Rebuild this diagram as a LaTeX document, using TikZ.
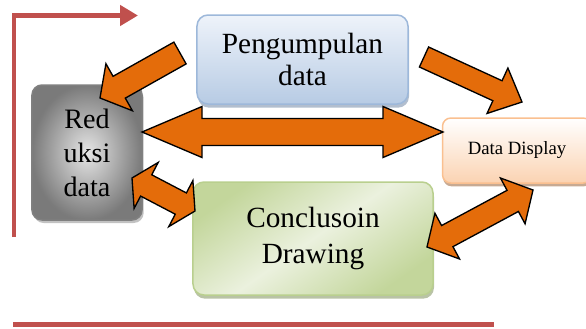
\documentclass[tikz,border=0pt]{standalone}
\usepackage{fontspec}
\setmainfont{Liberation Serif}
\usetikzlibrary{calc,arrows.meta,shadows}
\definecolor{frame}{HTML}{C0504D}
\definecolor{arrowfill}{HTML}{E46C0A}
\definecolor{bluetop}{HTML}{EEF3FA}
\definecolor{bluebot}{HTML}{B7CBE4}
\definecolor{blueline}{HTML}{9DB8DA}
\definecolor{peachbot}{HTML}{FBD3B2}
\definecolor{peachline}{HTML}{FAC090}
\definecolor{greendark}{HTML}{C3D69B}
\definecolor{greenlight}{HTML}{EBF1DE}
\definecolor{greenline}{HTML}{B9CF8E}
\tikzset{
  box/.style={rounded corners=0.33cm, line width=0.045cm, align=center, inner sep=0pt},
  blockarrow/.style={fill=arrowfill, draw=black, line width=0.04cm, line join=miter},
  frameline/.style={draw=frame, line width=0.14cm}
}
\newcommand{\onearrow}[5]{%
  \coordinate (hb) at ($(#2)!#5!(#1)$);
  \draw[blockarrow] ($(#1)!#3!90:(#2)$) -- ($(hb)!#3!90:(#2)$) -- ($(hb)!#4!90:(#2)$)
    -- (#2) -- ($(hb)!#4!-90:(#2)$) -- ($(hb)!#3!-90:(#2)$) -- ($(#1)!#3!-90:(#2)$) -- cycle;}
\newcommand{\twoarrow}[5]{%
  \coordinate (ha) at ($(#1)!#5!(#2)$);
  \coordinate (hb) at ($(#2)!#5!(#1)$);
  \draw[blockarrow] (#1) -- ($(ha)!#4!90:(#2)$) -- ($(ha)!#3!90:(#2)$) -- ($(hb)!#3!90:(#2)$)
    -- ($(hb)!#4!90:(#2)$) -- (#2) -- ($(hb)!#4!-90:(#2)$) -- ($(hb)!#3!-90:(#2)$)
    -- ($(ha)!#3!-90:(#2)$) -- ($(ha)!#4!-90:(#2)$) -- cycle;}
\begin{document}
\begin{tikzpicture}[x=0.03cm,y=-0.03cm]
  \useasboundingbox (0,0) rectangle (586,328);
  \coordinate (fb) at (14,237);
  \coordinate (fc) at (14,15.5);
  \coordinate (ft) at (138,15.5);
  \coordinate (bl) at (13,324.5);
  \coordinate (br) at (494,324.5);
  \draw[frameline, -{Triangle[length=0.54cm, width=0.6cm]}] (fb) -- (fc) -- (ft);
  \draw[frameline] (bl) -- (br);
  \node[box, draw=blueline, top color=bluetop, bottom color=bluebot,
    drop shadow={shadow xshift=0.03cm, shadow yshift=-0.11cm, fill=blueline!80!black, opacity=0.6},
    minimum width=6.33cm, minimum height=2.67cm, font=\fontsize{25}{27.5}\selectfont]
    (peng) at (302.5,59.5) {Pengumpulan\\data};
  \node[box, rounded corners=0.3cm, draw=black!50, inner color=black!10, outer color=black!52,
    drop shadow={shadow xshift=0.05cm, shadow yshift=-0.09cm, fill=black!40, opacity=0.6},
    minimum width=3.3cm, minimum height=4.05cm, font=\fontsize{24}{29}\selectfont]
    (red) at (87,152.5) {Red\\uksi\\data};
  \node[box, rounded corners=0.25cm, draw=peachline, top color=white, bottom color=peachbot,
    drop shadow={shadow xshift=0.02cm, shadow yshift=-0.1cm, fill=peachline!70!black, opacity=0.7},
    minimum width=4.47cm, minimum height=1.95cm, font=\fontsize{16}{19}\selectfont]
    (disp) at (517,150.5) {Data Display};
  \node[box, draw=greenline, top color=greendark, bottom color=greendark, middle color=greenlight,
    shading angle=35,
    drop shadow={shadow xshift=0.03cm, shadow yshift=-0.11cm, fill=greenline!75!black, opacity=0.6},
    minimum width=7.2cm, minimum height=3.39cm, font=\fontsize{25}{31.5}\selectfont]
    (concl) at (313,238.5) {Conclusoin\\Drawing};
  \coordinate (a1s) at (180,53);
  \coordinate (a1e) at (100,98);
  \coordinate (a2s) at (424,57);
  \coordinate (a2e) at (522,102);
  \coordinate (a3s) at (142,132);
  \coordinate (a3e) at (443,132);
  \coordinate (a4s) at (132,178);
  \coordinate (a4e) at (195,211);
  \coordinate (a5s) at (427,247);
  \coordinate (a5e) at (533,190);
  \onearrow{a1s}{a1e}{0.375cm}{0.81cm}{0.66cm}
  \onearrow{a2s}{a2e}{0.33cm}{0.75cm}{0.81cm}
  \twoarrow{a3s}{a3e}{0.405cm}{0.765cm}{1.8cm}
  \twoarrow{a4s}{a4e}{0.36cm}{0.78cm}{0.48cm}
  \twoarrow{a5s}{a5e}{0.36cm}{0.78cm}{0.69cm}
\end{tikzpicture}
\end{document}
